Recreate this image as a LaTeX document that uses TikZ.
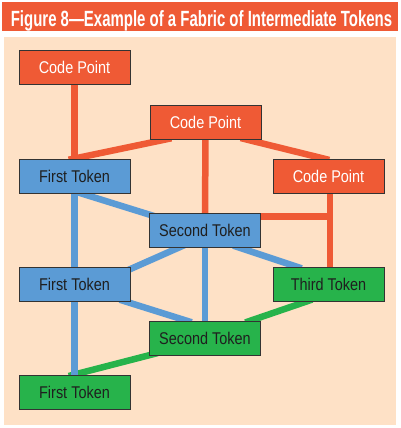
\documentclass[tikz,border=0pt]{standalone}
\usepackage{fontspec}
\setmainfont{Liberation Sans}
\newfontfamily\nodefont[FakeStretch=0.85]{Liberation Sans}
\newfontfamily\titlefont[FakeStretch=0.68]{Liberation Sans Bold}
\usetikzlibrary{calc}
\definecolor{figred}{HTML}{EF5A35}
\definecolor{peach}{HTML}{FEE1C6}
\definecolor{figblue}{HTML}{5B9BD5}
\definecolor{figgreen}{HTML}{27B34B}
\definecolor{edge}{HTML}{333333}
\definecolor{darktext}{HTML}{1F1F1F}
\pgfdeclarelayer{back}
\pgfdeclarelayer{bg}
\pgfsetlayers{back,bg,main}
\tikzset{
  box/.style={draw=edge, line width=1pt, minimum width=111pt, minimum height=34pt,
    inner sep=0pt, text height=12.2pt, text depth=0pt, font=\nodefont\fontsize{17pt}{19pt}\selectfont},
  cpbox/.style={box, fill=figred, text=white},
  bluebox/.style={box, fill=figblue, text=darktext},
  greenbox/.style={box, fill=figgreen, text=darktext},
  conn/.style={line width=6.5pt, shorten <=-6pt, shorten >=-6pt},
  redline/.style={conn, figred},
  blueline/.style={conn, figblue},
  greenline/.style={conn, figgreen},
}
\begin{document}
\begin{tikzpicture}[x=1pt,y=-1pt]
\useasboundingbox (0,0) rectangle (400,428);
\begin{pgfonlayer}{back}
  \fill[white] (0,0) rectangle (400,428);
  \fill[figred] (2,2) rectangle (398,31);
  \fill[peach] (4,37) rectangle (396,425);
\end{pgfonlayer}

\node[anchor=base, text=white, inner sep=0pt, font=\titlefont\fontsize{22pt}{24pt}\selectfont] (title) at (201.5,27)
  {Figure 8—Example of a Fabric of Intermediate Tokens};

% nodes
\node[cpbox] (cp1) at (74.5,67.5) {Code Point};
\node[cpbox] (cp2) at (205.5,122) {Code Point};
\node[cpbox] (cp3) at (328.5,176) {Code Point};
\node[bluebox] (ft1) at (74.5,176) {First Token};
\node[bluebox] (st1) at (205,230) {Second Token};
\node[bluebox] (ft2) at (74.5,284) {First Token};
\node[greenbox] (tt) at (328.5,284) {Third Token};
\node[greenbox] (st2) at (205,338) {Second Token};
\node[greenbox] (ft3) at (74.5,392) {First Token};

\coordinate (redh) at ($(st1.north east)+(-6,4)$);

\begin{pgfonlayer}{bg}
  % green
  \draw[greenline] ($(tt.south west)+(34,0)$) -- ($(st2.north east)+(-10,0)$);
  \draw[greenline] (ft3.north) -- ($(st2.south west)+(3,-1)$);
  % blue
  \draw[blueline] (ft1.south) -- (ft3.north);
  \draw[blueline] ($(ft1.south)+(7,0)$) -- ($(st1.north west)+(0,2)$);
  \draw[blueline] ($(st1.south west)+(30,0)$) -- ($(ft2.north east)+(0,2.5)$);
  \draw[blueline] ($(ft2.south east)+(-5,0)$) -- ($(st2.north west)+(37,0)$);
  \draw[blueline] (st1.south) -- (st2.north);
  \draw[blueline] ($(st1.south east)+(-22,0)$) -- ($(tt.north west)+(23.5,0)$);
  % red
  \draw[redline] (cp1.south) -- (ft1.north);
  \draw[redline] (ft1.north) -- ($(cp2.south)+(-40,0)$);
  \draw[redline] ($(cp2.south)+(41,0)$) -- ($(cp3.north)+(-5,0)$);
  \draw[redline] (cp2.south) -- (st1.north);
  \draw[redline] ($(cp3.south)+(1.5,0)$) -- ($(tt.north)+(1.5,0)$);
  \draw[line width=6.5pt, figred, shorten <=-6pt] (redh) -- ($(redh -| tt.north)+(1.5,0)$);
\end{pgfonlayer}
\end{tikzpicture}
\end{document}
